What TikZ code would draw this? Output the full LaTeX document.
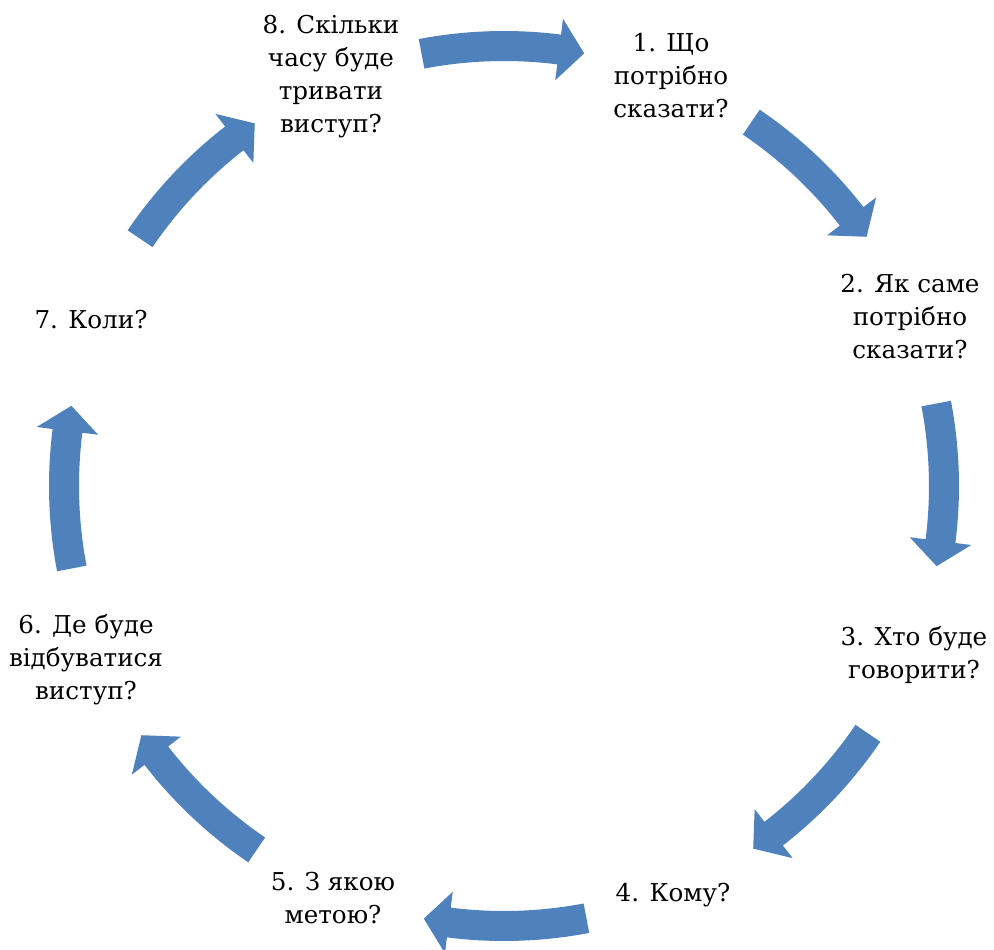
\documentclass[tikz,border=0pt]{standalone}
\usepackage{fontspec}
\setmainfont{DejaVu Serif}
\definecolor{cycleblue}{RGB}{79,129,189}

\begin{document}
\begin{tikzpicture}[font=\fontsize{14}{18.8}\selectfont, steplabel/.style={align=center, inner sep=1pt}]
    \useasboundingbox (-10.08,-9.26) rectangle (9.80,9.72);

    % Flechas del ciclo
    \foreach \m in {90,45,0,-45,-90,-135,-180,-225} {
      \pgfmathsetmacro\ta{\m+10.8}
      \pgfmathsetmacro\tn{\m-7.2}
      \pgfmathsetmacro\tt{\m-10.5}
      \fill[cycleblue] (\ta:9.1) arc[start angle=\ta, end angle=\tn, radius=9.1] -- (\tn:9.42) -- (\tt:8.8) -- (\tn:8.18) -- (\tn:8.5) arc[start angle=\tn, end angle=\ta, radius=8.5] -- cycle;
    }

    % Preguntas
    \node[steplabel] (s1) at (3.34,8.20) {1. Що\\потрібно\\сказати?};
    \node[steplabel] (s2) at (8.12,3.38) {2. Як саме\\потрібно\\сказати?};
    \node[steplabel] (s3) at (8.20,-3.38) {3. Хто буде\\говорити?};
    \node[steplabel] (s4) at (3.38,-8.18) {4. Кому?};
    \node[steplabel] (s5) at (-3.42,-8.24) {5. З якою\\метою?};
    \node[steplabel] (s6) at (-8.36,-3.48) {6. Де буде\\відбуватися\\виступ?};
    \node[steplabel] (s7) at (-8.26,3.32) {7. Коли?};
    \node[steplabel] (s8) at (-3.46,8.18) {8. Скільки\\часу буде\\тривати\\виступ?};
  \end{tikzpicture}
\end{document}
